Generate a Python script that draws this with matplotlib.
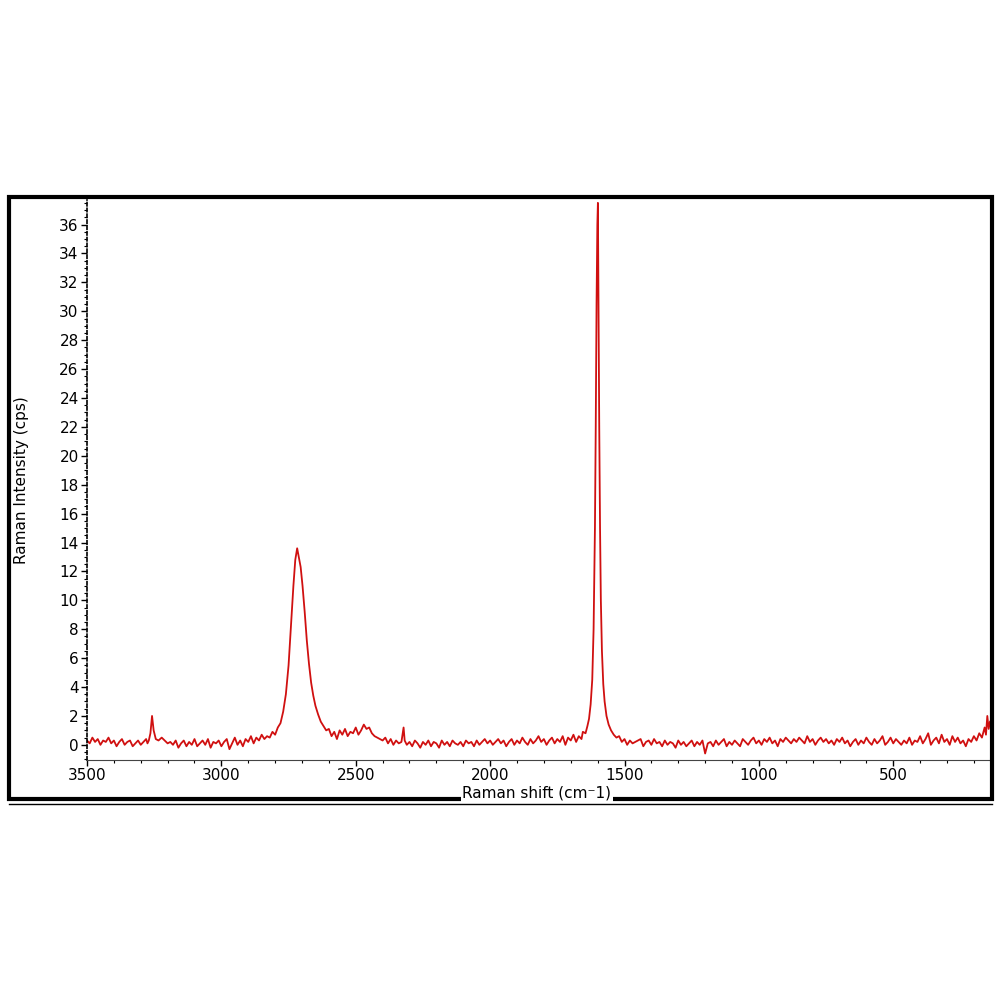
import matplotlib
matplotlib.use("Agg")
import matplotlib.pyplot as plt
from matplotlib.patches import Rectangle
from matplotlib.lines import Line2D

# Raman shift (cm-1) and intensity (cps)
shift = [3500,3490,3480,3470,3460,3450,3440,3430,3420,3410,3400,3390,3380,3370,3360,3350,3340,3330,3320,3310,
         3300,3290,3280,3275,3270,3264,3258,3252,3244,3234,3222,3200,3190,3180,3170,3160,3150,3140,3130,3120,
         3110,3100,3090,3080,3070,3060,3050,3040,3030,3020,3010,3000,2990,2980,2970,2960,2950,2940,2930,2920,
         2910,2900,2890,2880,2870,2860,2850,2840,2830,2820,2810,2800,2790,2780,2770,2760,2750,2740,2732,2725,
         2718,2712,2705,2698,2690,2682,2674,2666,2658,2650,2640,2630,2620,2610,2600,2590,2580,2570,2560,2550,
         2540,2530,2520,2510,2500,2490,2480,2470,2460,2450,2440,2430,2420,2410,2400,2390,2380,2370,2360,2350,
         2340,2330,2322,2318,2310,2300,2290,2280,2270,2260,2250,2240,2230,2220,2210,2200,2190,2180,2170,2160,
         2150,2140,2130,2120,2110,2100,2090,2080,2070,2060,2050,2040,2030,2020,2010,2000,1990,1980,1970,1960,
         1950,1940,1930,1920,1910,1900,1890,1880,1870,1860,1850,1840,1830,1820,1810,1800,1790,1780,1770,1760,
         1750,1740,1730,1720,1710,1700,1690,1680,1670,1660,1655,1645,1638,1632,1626,1620,1615,1610,1607,1604,
         1601,1599,1597,1594,1591,1588,1584,1579,1574,1567,1559,1550,1540,1530,1520,1510,1500,1490,1480,1470,
         1440,1430,1420,1410,1400,1390,1380,1370,1360,1350,1340,1330,1320,1310,1300,1290,1280,1270,1260,1250,
         1240,1230,1220,1210,1200,1190,1180,1170,1160,1150,1140,1130,1120,1110,1100,1090,1080,1070,1060,1050,
         1040,1030,1020,1010,1000,990,980,970,960,950,940,930,920,910,900,890,880,870,860,850,
         840,830,820,810,800,790,780,770,760,750,740,730,720,710,700,690,680,670,660,650,
         640,630,620,610,600,590,580,570,560,550,540,530,520,510,500,490,480,470,460,450,
         440,430,420,410,400,390,380,370,360,350,340,330,320,310,300,290,280,270,260,250,
         240,230,220,210,200,190,180,170,160,155,150,145,140]
intensity = [0.3,0.1,0.5,0.2,0.4,0.0,0.3,0.2,0.5,0.1,0.3,-0.1,0.2,0.4,0.0,0.2,0.3,-0.1,0.1,0.3,
             0.0,0.2,0.4,0.1,0.3,0.8,2.0,1.0,0.4,0.3,0.5,0.1,0.2,0.0,0.3,-0.2,0.1,0.3,-0.1,0.2,
             0.0,0.4,-0.1,0.1,0.3,0.0,0.4,-0.2,0.2,0.1,0.3,-0.1,0.2,0.4,-0.3,0.1,0.5,0.0,0.3,-0.1,
             0.4,0.2,0.6,0.1,0.5,0.3,0.7,0.4,0.6,0.5,0.9,0.7,1.2,1.5,2.3,3.5,5.5,8.5,11.0,12.8,
             13.6,13.0,12.3,11.0,9.2,7.2,5.6,4.3,3.4,2.7,2.1,1.6,1.3,1.0,1.1,0.6,0.9,0.4,1.0,0.7,
             1.1,0.6,0.9,0.8,1.2,0.7,1.0,1.4,1.1,1.2,0.8,0.6,0.5,0.4,0.3,0.5,0.1,0.4,0.0,0.3,
             0.1,0.2,1.2,0.3,0.0,0.2,-0.1,0.3,0.1,-0.2,0.2,0.0,0.3,-0.1,0.2,0.1,-0.2,0.3,0.0,0.2,
             -0.1,0.3,0.1,0.0,0.2,-0.1,0.3,0.1,0.2,-0.1,0.3,0.0,0.2,0.4,0.1,0.3,0.0,0.2,0.4,0.1,
             0.3,-0.1,0.2,0.4,0.0,0.3,0.1,0.5,0.2,0.0,0.4,0.1,0.3,0.6,0.2,0.4,0.0,0.3,0.5,0.1,
             0.4,0.2,0.6,0.0,0.5,0.3,0.7,0.2,0.6,0.4,0.9,0.8,1.3,1.8,2.8,4.5,8.0,15.0,22.0,30.5,
             36.0,37.5,31.0,22.0,15.0,10.0,6.5,4.2,3.0,2.0,1.4,1.0,0.7,0.5,0.6,0.2,0.4,0.0,0.3,0.1,
             0.4,-0.1,0.2,0.3,0.0,0.4,0.1,0.2,-0.1,0.3,0.0,0.2,0.1,-0.2,0.3,0.0,0.2,-0.1,0.1,0.3,
             -0.1,0.2,0.0,0.3,-0.6,0.1,0.2,-0.1,0.3,0.0,0.2,0.4,-0.1,0.2,0.0,0.3,0.1,-0.1,0.4,0.2,
             0.0,0.3,0.5,0.1,0.3,0.0,0.4,0.2,0.5,0.1,0.3,-0.1,0.4,0.2,0.5,0.3,0.1,0.4,0.2,0.5,
             0.3,0.1,0.6,0.2,0.4,0.0,0.3,0.5,0.2,0.4,0.1,0.3,0.0,0.4,0.2,0.5,0.1,0.3,-0.1,0.2,
             0.4,0.0,0.3,0.1,0.5,0.2,0.0,0.4,0.1,0.3,0.6,0.0,0.2,0.5,0.1,0.4,0.2,0.0,0.3,0.1,
             0.5,0.0,0.3,0.2,0.6,0.1,0.4,0.8,0.0,0.3,0.5,0.1,0.7,0.2,0.4,0.0,0.6,0.2,0.5,0.1,
             0.3,-0.1,0.4,0.2,0.6,0.3,0.8,0.5,1.2,0.7,2.0,1.1,1.6]

xticks = [3000, 2500, 2000, 1500, 1000, 500, 3500]
yticks = list(range(0, 37, 2))

fig = plt.figure(figsize=(10, 10), dpi=100)
ax = fig.add_axes([0.087, 0.24, 0.903, 0.56])
ax.plot(shift, intensity, color="#d01010", lw=1.3)
ax.set_xlim(3500, 140)
ax.set_ylim(-1.05, 37.7)
ax.set_xticks(xticks)
ax.set_xticklabels([str(t) for t in xticks], fontsize=11)
ax.set_xticks(range(3500, 140, -100), minor=True)
ax.set_yticks(yticks)
ax.set_yticklabels([str(t) for t in yticks], fontsize=11)
ax.set_yticks([i * 0.5 for i in range(-2, 76)], minor=True)
ax.tick_params(which="major", length=4, width=1, direction="out", pad=2)
ax.tick_params(which="minor", length=2, width=0.8, direction="out")
for s in ["top", "right"]:
    ax.spines[s].set_visible(False)
ax.spines["left"].set_linestyle((0, (2, 1.5)))
ax.spines["left"].set_linewidth(1.2)
ax.spines["bottom"].set_linewidth(0.8)
ax.spines["bottom"].set_color("#444444")
ax.set_ylabel("Raman Intensity (cps)", fontsize=11, labelpad=22)

# outer frame
fig.patches.append(Rectangle((0.009, 0.201), 0.983, 0.602, transform=fig.transFigure,
                             fill=False, lw=3, ec="black"))
fig.lines.append(Line2D([0.009, 0.992], [0.196, 0.196], transform=fig.transFigure, color="black", lw=1))
fig.text(0.537, 0.207, "Raman shift (cm\u207b1)", fontsize=11, ha="center", va="center",
         bbox=dict(fc="white", ec="none", pad=1))
fig.savefig("out.png", dpi=100, facecolor="white")
